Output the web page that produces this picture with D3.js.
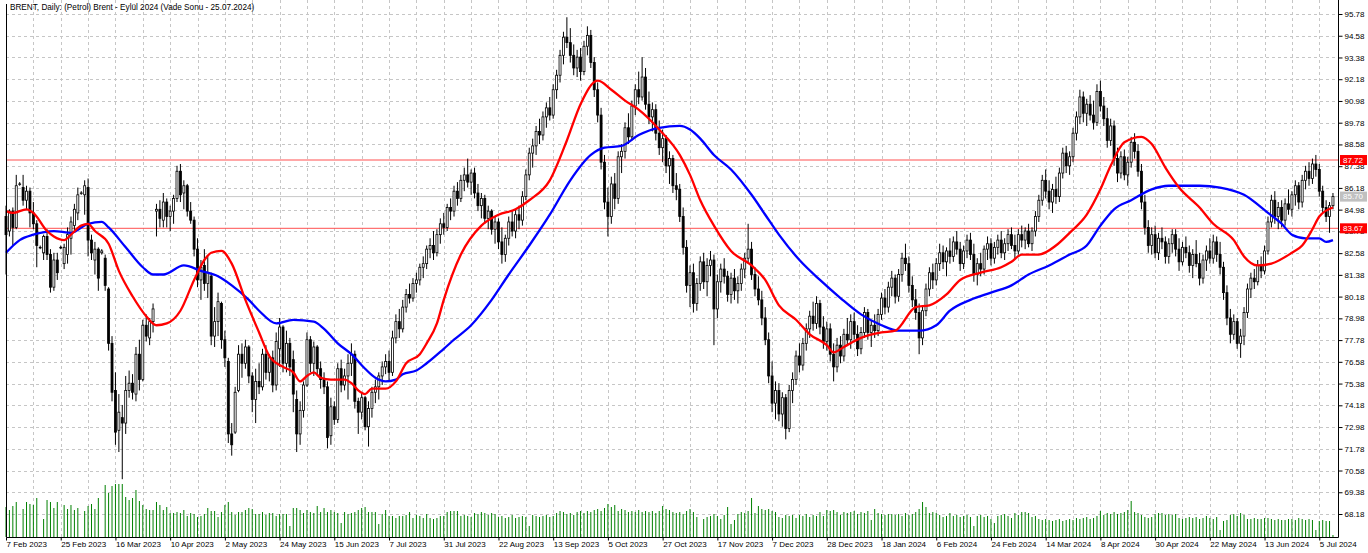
<!DOCTYPE html>
<html>
<head>
<meta charset="utf-8">
<script src="https://cdn.jsdelivr.net/npm/d3@7/dist/d3.min.js"></script>
<style>
  body { margin: 0; background: #fff; }
  svg { display: block; }
</style>
</head>
<body>
<svg id="drawing_region"></svg>
<script>
const title = "BRENT, Daily:  (Petrol) Brent - Eyl\u00fcl 2024 (Vade Sonu - 25.07.2024)";

// one label every 16 bars
const dateLabels = ["7 Feb 2023", "25 Feb 2023", "16 Mar 2023", "10 Apr 2023", "2 May 2023", "24 May 2023",
  "15 Jun 2023", "7 Jul 2023", "31 Jul 2023", "22 Aug 2023", "13 Sep 2023", "5 Oct 2023", "27 Oct 2023",
  "17 Nov 2023", "7 Dec 2023", "28 Dec 2023", "18 Jan 2024", "6 Feb 2024", "24 Feb 2024", "14 Mar 2024",
  "8 Apr 2024", "30 Apr 2024", "22 May 2024", "13 Jun 2024", "5 Jul 2024"];

const priceTicks = [95.78, 94.58, 93.38, 92.18, 90.98, 89.78, 88.58, 87.38, 86.18, 84.98, 83.78, 82.58,
  81.38, 80.18, 78.98, 77.78, 76.58, 75.38, 74.18, 72.98, 71.78, 70.58, 69.38, 68.18];

// open, high, low, close
const ohlc = [
[84.6,85.2,81.4,83.6],[83.8,85.0,83.5,84.9],[84.9,85.1,83.0,84.0],[84.0,86.9,83.9,86.3],[86.4,86.5,86.3,86.4],
[86.2,86.9,85.2,85.5],[85.5,86.3,85.0,86.0],[86.0,86.2,84.0,84.8],[84.8,85.4,83.9,84.2],[84.2,84.4,81.8,83.0],
[82.9,83.0,82.8,82.9],[82.6,83.6,82.2,83.5],[83.5,83.9,82.2,82.5],[82.5,82.8,80.4,80.7],[80.7,82.6,80.5,82.2],
[82.2,82.6,81.1,81.5],[82.9,83.0,82.8,82.9],[82.0,83.1,81.7,82.9],[82.5,84.0,82.0,83.6],[83.4,84.6,82.5,84.3],
[84.1,85.3,83.8,85.0],[84.8,86.2,84.4,85.8],[85.9,86.0,85.8,85.9],[85.8,86.6,84.7,86.3],[86.2,86.7,82.4,83.3],
[83.3,83.6,82.2,82.6],[82.2,83.2,81.4,82.8],[82.8,82.9,80.5,81.2],[82.6,82.8,82.5,82.7],[82.3,82.5,80.5,80.8],
[80.6,80.7,77.2,77.6],[77.6,78.0,74.4,74.9],[75.0,76.0,72.0,72.7],[72.8,74.8,71.6,73.8],[73.5,74.2,70.1,73.2],
[73.2,75.8,72.6,75.0],[75.0,76.1,74.6,75.4],[75.4,75.9,74.5,74.9],[74.8,77.4,74.4,77.0],[77.0,77.8,75.0,75.6],
[75.6,78.9,75.5,78.6],[78.6,79.2,77.7,78.0],[77.9,79.0,77.5,78.8],[78.8,79.8,78.2,79.5],[84.9,85.3,83.5,85.0],
[85.0,85.5,84.0,84.5],[84.4,85.9,84.0,85.4],[85.4,85.6,84.0,84.6],[84.6,85.2,83.8,84.9],[84.9,85.8,84.2,85.6],
[85.6,87.4,85.4,87.1],[87.1,87.5,85.4,85.8],[85.9,86.6,85.0,86.3],[86.3,86.4,84.6,84.9],[84.9,85.4,84.2,84.4],
[84.4,84.6,82.4,82.8],[82.8,83.4,80.7,81.1],[81.1,82.2,80.0,81.8],[81.9,82.8,80.5,80.9],[80.9,82.4,80.1,81.5],
[81.3,81.5,77.5,78.0],[78.0,79.6,77.4,78.8],[78.8,80.4,78.0,79.9],[79.8,79.9,77.3,77.8],[77.8,78.3,76.3,76.8],
[76.6,76.8,72.1,72.6],[72.6,73.2,71.4,72.0],[72.7,75.2,72.6,74.9],[75.0,77.5,74.9,77.0],[77.0,77.6,75.7,76.5],
[76.5,77.8,76.2,77.4],[77.4,77.5,75.4,75.8],[75.8,76.0,73.8,74.5],[74.5,76.2,73.2,75.5],[75.5,76.5,74.8,75.2],
[75.2,77.3,75.0,77.0],[77.0,77.5,75.6,76.0],[76.0,77.0,75.5,76.8],[76.8,77.2,74.9,75.3],[75.3,78.2,75.0,77.7],
[77.3,79.0,76.3,78.5],[78.5,78.6,76.0,76.5],[76.5,78.3,76.0,77.6],[77.6,77.9,75.8,76.3],[76.7,77.2,73.8,74.8],
[74.5,75.0,71.6,72.6],[72.6,74.4,72.0,73.9],[73.9,75.5,73.5,75.3],[75.3,78.2,75.2,77.8],[77.8,78.0,76.0,76.5],
[76.5,77.7,75.8,77.4],[77.4,77.5,75.9,76.2],[76.2,76.6,75.1,75.6],[75.6,76.0,74.8,75.2],[75.2,75.5,71.8,72.4],
[72.5,74.6,72.0,74.1],[74.1,74.4,73.1,73.4],[73.4,76.5,73.2,76.2],[76.2,76.7,74.9,75.3],[75.3,76.2,75.0,75.8],
[75.8,77.0,74.5,76.5],[76.5,77.6,75.8,77.0],[77.0,77.2,74.0,74.4],[74.4,74.6,72.6,73.8],[73.8,74.9,73.4,74.6],
[74.6,74.7,72.8,73.0],[73.0,74.4,71.9,74.0],[74.0,75.2,73.5,74.9],[74.9,75.6,74.3,75.2],[75.2,76.0,74.5,75.8],
[75.8,76.6,75.3,76.3],[76.3,77.0,75.9,76.6],[76.6,77.2,75.5,76.0],[76.0,78.3,75.8,77.9],[77.9,79.2,77.6,78.8],
[78.8,79.5,77.9,78.4],[78.4,80.0,78.2,79.6],[79.6,80.6,79.3,80.3],[80.3,80.9,79.8,80.1],[80.1,81.2,79.9,80.9],
[80.9,81.5,80.4,81.1],[81.1,82.0,80.8,81.8],[81.8,82.4,81.2,82.0],[82.0,83.0,81.7,82.8],[82.8,83.4,82.3,83.0],
[83.0,83.8,82.2,82.6],[82.6,83.9,82.4,83.6],[83.6,84.5,83.1,84.2],[84.2,84.8,83.6,84.0],[84.0,85.3,83.8,85.1],
[85.1,85.6,84.4,84.9],[84.9,86.3,84.6,86.0],[86.0,86.5,85.2,85.6],[85.6,86.9,85.4,86.6],[86.6,87.3,86.0,86.9],
[86.9,87.8,86.2,86.5],[86.5,87.2,85.8,87.0],[87.0,87.3,85.6,85.9],[85.9,86.4,84.9,85.2],[85.2,85.9,84.5,85.6],
[85.6,85.8,84.2,84.5],[84.5,85.2,83.9,84.9],[84.9,85.0,83.6,83.9],[83.9,84.6,83.1,84.3],[84.3,84.5,82.8,83.2],
[83.2,84.0,82.0,82.5],[82.5,83.6,82.1,83.4],[83.4,84.6,83.0,84.3],[84.3,84.9,83.5,83.8],[83.8,85.0,83.4,84.7],
[84.7,85.2,83.9,84.4],[84.4,86.0,84.1,85.7],[85.7,87.2,85.5,86.9],[86.9,88.4,86.6,88.1],[88.1,88.9,87.3,88.5],
[88.5,89.6,88.0,89.3],[89.3,90.0,88.6,89.1],[89.1,90.4,88.8,90.1],[90.1,90.9,89.5,90.6],[90.6,91.2,89.9,90.2],
[90.2,91.9,90.0,91.6],[91.6,92.7,91.1,92.4],[92.4,93.8,92.0,93.5],[93.5,94.8,93.0,94.5],[94.5,95.6,93.9,94.2],
[94.2,95.0,93.1,93.5],[93.5,94.1,92.4,92.8],[92.8,93.8,92.3,93.4],[93.4,93.9,92.1,92.6],[92.6,94.3,92.4,94.0],
[94.0,95.1,93.5,94.6],[94.6,94.9,92.8,93.1],[93.1,93.4,91.2,91.6],[91.6,92.0,89.8,90.2],[90.2,90.6,87.2,87.6],
[87.6,88.0,85.0,85.4],[85.4,86.2,83.5,84.6],[84.6,86.8,84.2,86.4],[86.4,87.0,85.0,85.6],[85.6,88.2,85.3,87.9],
[87.9,88.6,87.0,88.2],[88.2,89.8,87.8,89.5],[89.5,90.3,88.6,89.0],[89.0,91.0,88.8,90.7],[90.7,91.9,90.2,91.6],
[91.6,92.6,90.8,91.2],[91.2,93.4,91.0,92.3],[92.3,92.8,90.5,90.8],[90.8,91.5,89.7,90.1],[90.1,90.9,89.3,90.5],
[90.5,90.8,88.8,89.2],[89.2,89.9,88.0,88.4],[88.4,89.4,87.6,88.9],[88.9,89.1,87.0,87.4],[87.4,88.2,86.4,87.8],
[87.8,88.0,85.9,86.3],[86.3,87.0,85.5,86.1],[86.1,86.4,84.3,84.6],[84.6,85.1,82.5,82.9],[82.9,83.3,80.4,80.8],
[80.8,81.9,79.6,81.5],[81.5,82.0,79.3,79.8],[79.8,81.2,79.4,80.9],[80.9,82.4,80.5,82.1],[82.1,82.6,80.6,81.0],
[81.0,82.3,80.2,81.9],[81.9,82.7,81.3,82.2],[82.2,82.5,77.5,79.5],[79.5,81.4,79.0,81.0],[81.0,82.0,80.4,81.7],
[81.7,82.3,80.9,81.3],[81.3,81.6,79.9,80.3],[80.3,81.5,79.8,81.2],[81.2,81.7,80.0,80.5],[80.5,81.3,79.8,80.9],
[80.9,82.0,80.5,81.7],[81.7,82.6,81.2,82.3],[82.3,84.2,82.0,82.8],[82.8,83.2,81.1,81.4],[81.4,81.8,80.2,80.6],
[80.6,81.3,79.7,80.0],[80.0,80.5,78.6,79.0],[79.0,79.6,77.5,77.8],[77.8,78.2,75.4,75.8],[75.8,76.6,73.8,74.3],
[74.3,75.5,73.4,75.0],[75.0,75.4,73.3,73.7],[73.7,74.9,73.0,74.6],[74.6,74.8,72.3,72.9],[72.9,75.3,72.7,75.0],
[75.0,76.0,74.3,75.6],[75.6,77.2,75.3,76.9],[76.9,77.6,76.0,76.4],[76.4,77.9,76.1,77.6],[77.6,78.7,77.2,78.4],
[78.4,79.4,77.9,79.1],[79.1,79.9,78.3,78.7],[78.7,80.2,78.4,79.8],[79.8,80.0,78.1,78.5],[78.5,79.1,77.3,77.7],
[77.7,78.8,77.2,78.4],[78.4,78.7,76.6,77.0],[77.0,77.6,75.5,76.3],[76.3,77.9,76.0,77.5],[77.5,78.0,76.5,76.9],
[76.9,78.4,76.6,78.1],[78.1,79.0,77.5,77.8],[77.8,79.2,77.3,78.8],[78.8,79.3,77.8,78.1],[78.1,78.6,76.9,77.3],
[77.3,78.5,77.0,78.2],[78.2,79.6,77.9,79.3],[79.3,79.5,77.8,78.2],[78.2,78.9,77.4,78.6],[78.6,79.2,77.9,78.3],
[78.3,79.5,78.0,79.2],[79.2,80.4,78.9,80.1],[80.1,80.6,79.2,79.6],[79.6,81.0,79.3,80.7],[80.7,81.6,80.2,81.2],
[81.2,81.4,79.8,80.2],[80.2,81.7,79.9,81.4],[81.4,82.6,81.0,82.3],[82.3,83.1,81.6,82.0],[82.0,82.4,80.4,80.8],
[80.8,81.3,79.6,80.0],[80.0,80.6,78.9,79.3],[79.3,79.8,77.0,77.9],[77.9,79.7,77.5,79.4],[79.4,80.9,79.1,80.6],
[80.6,81.8,80.2,81.5],[81.5,82.0,80.6,81.1],[81.1,82.3,80.8,82.0],[82.0,83.1,81.6,82.6],[82.6,83.0,81.7,82.1],
[82.1,82.9,81.3,82.7],[82.7,83.4,82.0,82.4],[82.4,83.5,82.1,83.2],[83.2,83.8,82.5,82.8],[82.8,83.2,81.6,82.0],
[82.0,83.0,81.7,82.7],[82.7,83.6,82.3,83.3],[83.3,83.7,82.2,82.5],[82.5,83.1,81.0,81.4],[81.4,82.3,80.8,82.0],
[82.0,82.6,81.3,81.7],[81.7,83.0,81.4,82.8],[82.8,83.5,82.2,83.1],[83.1,83.4,81.9,82.3],[82.3,83.2,82.0,82.9],
[82.9,83.6,82.5,83.3],[83.3,83.8,82.3,82.6],[82.6,83.4,82.2,83.1],[83.1,83.9,82.7,83.6],[83.6,84.0,82.8,83.0],
[83.0,83.6,82.3,82.7],[82.7,83.9,82.5,83.6],[83.6,84.1,82.9,83.3],[83.3,84.0,82.8,83.8],[83.8,84.2,82.9,83.1],
[83.1,84.0,82.7,83.8],[83.8,84.9,83.5,84.6],[84.6,85.8,84.3,85.5],[85.5,86.9,85.2,86.6],[86.6,87.2,85.6,86.0],
[86.0,86.6,85.0,85.4],[85.4,86.4,84.8,86.1],[86.1,86.8,85.3,85.7],[85.7,87.3,85.4,87.0],[87.0,88.4,86.7,88.1],
[88.1,88.5,87.0,87.4],[87.4,88.2,86.9,87.9],[87.9,89.5,87.6,89.2],[89.2,90.4,88.8,90.1],[90.1,91.6,89.7,91.2],
[91.2,91.5,89.8,90.3],[90.3,91.1,89.6,90.8],[90.8,91.3,89.9,90.2],[90.2,91.0,89.4,89.8],[89.8,91.9,89.6,91.5],
[91.5,92.1,90.4,90.7],[90.7,91.2,89.6,90.0],[90.0,90.6,88.4,88.8],[88.8,90.0,88.5,89.6],[89.6,89.9,87.4,87.8],
[87.8,88.4,86.5,87.0],[87.0,88.2,86.7,87.9],[87.9,88.3,86.6,86.9],[86.9,87.9,86.3,87.6],[87.6,89.0,87.3,88.7],
[88.7,89.2,87.8,88.2],[88.2,88.6,86.8,87.1],[87.1,87.5,85.0,85.4],[85.4,85.8,83.6,84.0],[84.0,84.4,82.6,83.0],
[83.0,84.0,82.5,83.6],[83.6,84.1,82.3,82.6],[82.6,83.7,82.2,83.4],[83.4,84.0,82.8,83.2],[83.2,83.5,82.0,82.4],
[82.4,83.4,82.0,83.1],[83.1,83.9,82.6,83.6],[83.6,83.9,82.4,82.8],[82.8,83.4,81.6,82.1],[82.1,83.2,81.9,82.9],
[82.9,83.5,82.3,82.6],[82.6,83.0,81.5,81.9],[81.9,82.8,81.2,82.5],[82.5,83.3,81.8,82.0],[82.0,82.6,80.8,81.2],
[81.2,82.5,80.9,82.2],[82.2,83.0,81.6,82.7],[82.7,83.4,82.0,82.3],[82.3,83.6,82.0,83.2],[83.2,83.5,82.1,82.5],
[82.5,83.2,81.4,81.8],[81.8,82.1,80.0,80.4],[80.4,80.8,78.6,79.0],[79.0,79.5,77.6,78.1],[78.1,79.2,77.8,78.8],
[78.8,79.0,77.3,77.6],[77.6,78.4,76.8,78.0],[78.0,79.6,77.5,79.3],[79.3,80.9,79.0,80.6],[80.6,81.5,80.1,81.2],
[81.2,81.7,80.6,81.0],[81.0,82.2,80.8,81.9],[81.9,82.4,81.2,81.6],[81.6,83.0,81.4,82.7],[82.7,84.6,82.5,84.3],
[84.3,85.8,84.0,85.5],[85.5,86.0,84.2,84.6],[84.6,85.4,83.9,85.1],[85.1,85.5,84.0,84.4],[84.4,85.6,84.1,85.3],
[85.3,86.1,84.7,85.0],[85.0,86.0,84.6,85.8],[85.8,86.6,85.2,86.3],[86.3,86.5,85.0,85.4],[85.4,86.9,85.1,86.6],
[86.6,87.4,86.1,87.1],[87.1,87.6,86.3,86.7],[86.7,87.8,86.4,87.5],[87.5,88.0,86.8,87.2],[87.2,87.5,85.7,86.0],
[86.0,86.3,84.8,85.1],[85.1,85.5,84.3,84.6],[84.6,85.4,83.7,85.2],[85.2,85.9,85.0,85.7]
];

const volumes = [
30,27,31,35,0,28,35,33,32,39,0,18,37,35,29,35,0,32,28,32,
27,29,0,26,31,33,28,39,0,52,44,51,53,53,53,40,37,39,47,36,
32,28,27,27,35,32,27,30,24,24,25,24,27,21,24,23,20,21,23,29,
26,26,20,25,32,35,25,22,25,25,27,29,28,23,23,25,22,24,24,21,
23,23,23,11,29,29,27,24,27,25,24,31,25,29,25,27,25,24,14,25,
23,24,25,27,29,30,25,25,25,13,23,27,21,21,19,21,21,22,25,19,
22,21,19,23,19,18,19,21,21,25,26,26,26,21,22,21,20,24,23,25,
24,22,24,23,20,21,19,20,22,19,20,21,20,11,22,21,20,21,22,20,
21,24,26,25,23,24,22,25,26,24,26,25,27,28,26,29,33,30,32,26,
28,27,25,26,25,27,25,26,25,26,24,26,31,28,27,25,24,25,23,26,
28,25,20,0,18,20,21,23,21,18,22,30,13,17,23,25,24,26,39,24,
31,28,27,28,26,25,20,19,22,21,22,19,22,21,23,20,22,21,25,21,
27,26,27,25,22,25,24,25,26,23,25,24,26,17,28,24,23,22,23,23,
22,23,21,24,22,23,25,28,35,30,24,25,24,22,20,21,24,21,22,20,
21,22,20,11,21,22,20,21,18,14,21,22,23,21,19,24,22,25,25,24,
20,21,18,17,18,17,16,17,18,16,17,18,17,19,18,19,20,18,19,21,
26,22,24,23,25,23,24,25,27,36,25,24,22,20,19,20,23,24,24,22,
23,22,23,19,18,19,20,19,20,18,19,21,19,18,20,7,16,17,22,23,
21,24,22,18,18,19,18,18,19,19,18,17,18,17,17,18,18,17,19,18,
17,18,17,7,16,17,16,16,2
];

// moving averages: [bar, value]
const maRed = [[0,84.9],[2,84.8],[6,85.0],[8,84.8],[12,83.8],[14,83.5],[17,83.3],[19,83.6],[22,84.1],[24,84.2],
  [26,83.8],[30,83.1],[33,81.6],[37,80.2],[41,79.1],[44,78.6],[47,78.7],[51,79.4],[55,81.1],[58,82.2],[60,82.6],
  [63,82.7],[66,82.0],[70,80.0],[74,78.2],[77,76.9],[81,76.3],[84,76.0],[86,75.5],[88,75.8],[90,76.0],[92,75.7],
  [95,75.6],[99,75.6],[101,75.4],[103,75.0],[105,74.8],[107,75.1],[111,75.1],[114,75.5],[117,76.5],[121,77.0],
  [123,77.6],[126,78.7],[128,80.0],[133,82.5],[139,84.1],[144,84.7],[149,85.0],[153,85.5],[159,86.6],[164,88.8],
  [168,90.8],[173,92.1],[177,91.6],[181,91.0],[185,90.5],[191,89.4],[197,88.0],[200,86.9],[203,85.5],[207,84.1],
  [212,82.7],[218,81.9],[222,81.1],[226,79.7],[231,78.9],[235,78.1],[240,77.5],[242,77.1],[245,77.4],[250,77.9],
  [256,78.2],[260,78.3],[266,79.6],[270,79.7],[275,80.3],[279,81.1],[285,81.5],[291,81.8],[294,82.1],[297,82.5],
  [302,82.5],[307,83.0],[311,83.7],[316,84.7],[320,86.1],[323,87.4],[327,88.7],[332,89.0],[335,88.6],[339,87.3],
  [343,86.2],[349,85.1],[353,84.2],[359,83.3],[362,82.4],[366,81.9],[370,82.0],[376,82.6],[379,83.0],[382,83.9],
  [384,84.6],[388,85.1]];

const maBlue = [[0,82.6],[4,83.3],[8,83.6],[14,83.8],[19,83.7],[24,84.2],[28,84.3],[30,84.0],[35,82.9],[40,81.8],
  [43,81.4],[46,81.4],[52,81.9],[57,81.6],[62,81.3],[66,80.8],[71,80.0],[74,79.4],[79,78.7],[84,78.9],[90,78.8],
  [93,78.4],[97,77.6],[101,77.0],[105,76.2],[108,75.7],[111,75.5],[114,75.6],[116,75.9],[120,76.1],[123,76.5],
  [128,77.3],[131,77.8],[136,78.6],[142,80.0],[147,81.4],[153,83.0],[159,84.7],[165,86.6],[171,88.0],[175,88.4],
  [180,88.5],[185,89.1],[191,89.5],[197,89.6],[200,89.4],[203,88.9],[207,88.0],[212,87.2],[218,85.8],[222,84.7],
  [226,83.6],[232,82.2],[238,81.1],[244,80.1],[250,79.2],[256,78.6],[261,78.3],[267,78.3],[272,78.6],[276,79.4],
  [282,80.0],[288,80.4],[294,80.8],[299,81.4],[305,81.9],[311,82.5],[316,83.0],[320,84.1],[324,85.0],[329,85.5],
  [335,86.1],[340,86.3],[346,86.3],[349,86.3],[355,86.2],[362,85.8],[369,84.8],[373,84.2],[376,83.6],[380,83.4],
  [384,83.4],[386,83.2],[388,83.3]];

// horizontal levels: where the line sits and the text of its tag
const levelPrices = [87.72, 83.95];
const levelTexts = ["87.72", "83.67"];
const bidPrice = 85.70;

const config = {
  width: 1368, height: 553,
  left: 6, right: 1338, top: 0, bottom: 537,
  step: 3.42,
  font: '"Liberation Sans", Arial, sans-serif'
};

const svg = d3.select('#drawing_region')
  .attr('width', config.width)
  .attr('height', config.height)
  .style('font-family', config.font);

const xscale = d3.scaleLinear()
  .domain([0, ohlc.length - 1])
  .range([config.left, config.left + config.step * (ohlc.length - 1)]);

const yscale = d3.scaleLinear()
  .domain([68.18, 95.78])
  .range([514, 14]);

const vscale = d3.scaleLinear()
  .domain([0, 60])
  .range([config.bottom, config.bottom - 60]);

// grid
const grid = svg.append('g')
  .attr('stroke', '#c6c6c6')
  .attr('stroke-dasharray', '3,3')
  .attr('stroke-width', 1);

grid.selectAll('line.h')
  .data(priceTicks)
  .join('line')
  .attr('class', 'h')
  .attr('x1', config.left).attr('x2', config.right)
  .attr('y1', d => Math.round(yscale(d)) + 0.5)
  .attr('y2', d => Math.round(yscale(d)) + 0.5);

grid.selectAll('line.v')
  .data(d3.range(8, ohlc.length, 8))
  .join('line')
  .attr('class', 'v')
  .attr('x1', d => Math.round(xscale(d)) + 0.5)
  .attr('x2', d => Math.round(xscale(d)) + 0.5)
  .attr('y1', config.top).attr('y2', config.bottom);

// bid line and level lines
svg.append('line')
  .attr('x1', config.left).attr('x2', config.right)
  .attr('y1', yscale(bidPrice)).attr('y2', yscale(bidPrice))
  .attr('stroke', '#c8c8c8').attr('stroke-width', 1);

svg.selectAll('line.level')
  .data(levelPrices)
  .join('line')
  .attr('class', 'level')
  .attr('x1', config.left).attr('x2', config.right)
  .attr('y1', d => yscale(d)).attr('y2', d => yscale(d))
  .attr('stroke', '#ff5050').attr('stroke-width', 1);

// volumes
svg.append('g')
  .selectAll('line')
  .data(volumes)
  .join('line')
  .attr('x1', (d, i) => xscale(i)).attr('x2', (d, i) => xscale(i))
  .attr('y1', vscale(0)).attr('y2', d => vscale(d))
  .attr('stroke', '#008000').attr('stroke-width', 1);

// candles
const candles = svg.append('g')
  .selectAll('g')
  .data(ohlc)
  .join('g');

candles.append('line')
  .attr('x1', (d, i) => xscale(i)).attr('x2', (d, i) => xscale(i))
  .attr('y1', d => yscale(d[1])).attr('y2', d => yscale(d[2]))
  .attr('stroke', '#000').attr('stroke-width', 1);

candles.append('rect')
  .attr('x', (d, i) => xscale(i) - 1)
  .attr('width', 2)
  .attr('y', d => yscale(Math.max(d[0], d[3])))
  .attr('height', d => Math.max(0.6, Math.abs(yscale(d[0]) - yscale(d[3]))))
  .attr('fill', d => d[3] >= d[0] ? '#fff' : '#000')
  .attr('stroke', '#000')
  .attr('stroke-width', 0.8);

// moving averages
const maLine = d3.line()
  .x(d => xscale(d[0]))
  .y(d => yscale(d[1]))
  .curve(d3.curveMonotoneX);

svg.append('path').datum(maBlue)
  .attr('d', maLine).attr('fill', 'none')
  .attr('stroke', '#0000ff').attr('stroke-width', 2.3);

svg.append('path').datum(maRed)
  .attr('d', maLine).attr('fill', 'none')
  .attr('stroke', '#ff0000').attr('stroke-width', 2.3);

// frame
svg.append('path')
  .attr('d', `M${config.left + 0.5},4 V${config.bottom + 0.5} H${config.right + 0.5} V0`)
  .attr('fill', 'none').attr('stroke', '#000').attr('stroke-width', 1);

// price axis
const yaxis = d3.axisRight(yscale)
  .tickValues(priceTicks)
  .tickFormat(d3.format('.2f'))
  .tickSize(4)
  .tickSizeOuter(0);

const yaxisGroup = svg.append('g')
  .attr('transform', `translate(${config.right + 0.5}, 0)`)
  .call(yaxis);
yaxisGroup.select('.domain').remove();
yaxisGroup.selectAll('text')
  .attr('x', 6)
  .style('font-family', config.font)
  .style('font-size', '8px')
  .attr('fill', '#000');

// date axis
const labelBars = dateLabels.map((d, i) => i * 16);
const xaxis = d3.axisBottom(xscale)
  .tickValues(labelBars)
  .tickFormat((d, i) => dateLabels[i])
  .tickSize(3)
  .tickSizeOuter(0);

const xaxisGroup = svg.append('g')
  .attr('transform', `translate(0, ${config.bottom + 0.5})`)
  .call(xaxis);
xaxisGroup.select('.domain').remove();
xaxisGroup.selectAll('text')
  .attr('text-anchor', 'start')
  .attr('x', 0)
  .attr('y', 4)
  .style('font-family', config.font)
  .style('font-size', '8px')
  .attr('fill', '#000');

// price tags
function tag(price, text, color) {
  const y = yscale(price);
  svg.append('rect')
    .attr('x', config.right + 2).attr('y', y - 5)
    .attr('width', 27).attr('height', 10)
    .attr('fill', color);
  svg.append('text')
    .attr('x', config.right + 5).attr('y', y)
    .attr('dominant-baseline', 'central')
    .style('font-size', '8px')
    .attr('fill', '#fff')
    .text(text);
}
tag(bidPrice, bidPrice.toFixed(2), '#c0c0c0');
levelPrices.forEach((p, i) => tag(p, levelTexts[i], '#ff0000'));

// title
svg.append('text')
  .attr('x', 10).attr('y', 10)
  .style('font-size', '8.2px')
  .attr('fill', '#000')
  .text(title);
</script>
</body>
</html>
